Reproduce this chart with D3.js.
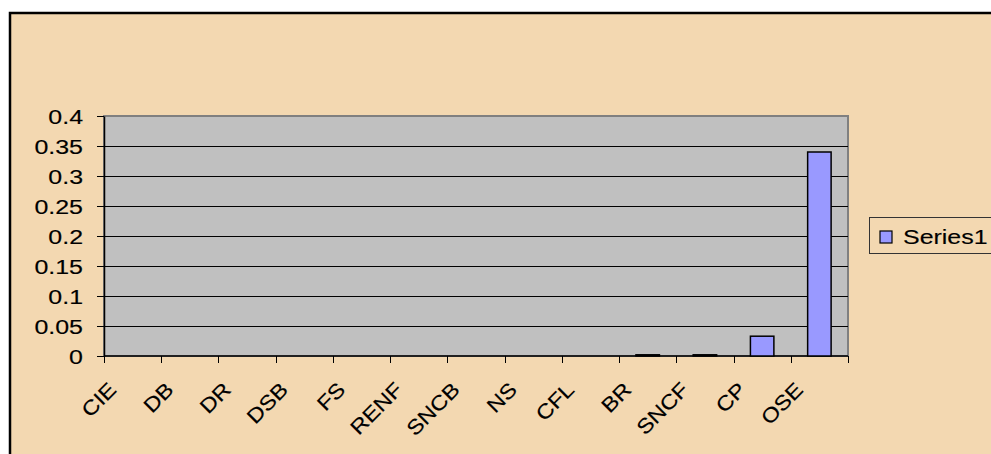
<!DOCTYPE html>
<html>
<head>
<meta charset="utf-8">
<script src="https://cdn.jsdelivr.net/npm/d3@7"></script>
<style>
  body { margin: 0; background: #fff; }
  text { font-family: "Liberation Sans", Arial, sans-serif; fill: #000; stroke: #000; stroke-width: 0.15px; }
</style>
</head>
<body>
<svg width="991" height="454"></svg>
<script>
// chart data
var categories = ["CIE", "DB", "DR", "DSB", "FS", "RENF", "SNCB", "NS", "CFL", "BR", "SNCF", "CP", "OSE"];
var series1 = [0, 0, 0, 0, 0, 0, 0, 0, 0, 0.002, 0.002, 0.033, 0.34];
var yTicks = [0, 0.05, 0.1, 0.15, 0.2, 0.25, 0.3, 0.35, 0.4];
var seriesName = "Series1";

var bgColor = "#f3d8b1",
    plotColor = "#c0c0c0",
    barColor = "#9999ff",
    fontSize = 19.5,
    stretch = 1.28; // the picture is stretched sideways

var svg = d3.select("svg"),
    plot = {left: 104, right: 848, top: 116, bottom: 356};

// outer frame
svg.append("rect")
    .attr("x", 10).attr("y", 13)
    .attr("width", 1000).attr("height", 460)
    .attr("fill", bgColor)
    .attr("stroke", "#000")
    .attr("stroke-width", 2.5);

var x = d3.scaleBand().domain(categories).range([plot.left, plot.right]).padding(0),
    y = d3.scaleLinear().domain([0, 0.4]).range([plot.bottom, plot.top]);

// plot area
svg.append("rect")
    .attr("x", plot.left).attr("y", plot.top)
    .attr("width", plot.right - plot.left).attr("height", plot.bottom - plot.top)
    .attr("fill", plotColor)
    .attr("stroke", "#808080")
    .attr("stroke-width", 2);

// gridlines
svg.selectAll(".grid")
    .data(yTicks.filter(function(d) { return d > 0 && d < 0.4; }))
    .enter().append("line")
      .attr("class", "grid")
      .attr("x1", plot.left).attr("x2", plot.right)
      .attr("y1", function(d) { return Math.round(y(d)) + 0.5; })
      .attr("y2", function(d) { return Math.round(y(d)) + 0.5; })
      .attr("stroke", "#000");

// y axis
var yAxis = svg.append("g")
    .attr("transform", "translate(" + plot.left + ",0)")
    .call(d3.axisLeft(y).tickValues(yTicks).tickSize(7).tickSizeOuter(0).tickFormat(function(d) { return String(d); }));
yAxis.select(".domain").attr("stroke", "#000").attr("stroke-width", 1.5);
yAxis.selectAll(".tick line").attr("stroke", "#000");
yAxis.selectAll(".tick text")
    .attr("x", null).attr("dy", null)
    .attr("transform", "translate(-21,0) scale(" + stretch + ",1)")
    .attr("dy", "0.36em")
    .style("font-size", fontSize + "px")
    .style("font-family", "'Liberation Sans', Arial, sans-serif");

// x axis, ticks at category boundaries
var xAxis = svg.append("g")
    .attr("transform", "translate(0," + plot.bottom + ")");
xAxis.append("line")
    .attr("x1", plot.left).attr("x2", plot.right)
    .attr("stroke", "#000").attr("stroke-width", 1.5);
var bounds = categories.map(function(c) { return x(c); }).concat([plot.right]);
xAxis.selectAll(".xtick")
    .data(bounds)
    .enter().append("line")
      .attr("class", "xtick")
      .attr("x1", function(d) { return Math.round(d) + 0.5; })
      .attr("x2", function(d) { return Math.round(d) + 0.5; })
      .attr("y1", 0).attr("y2", 7)
      .attr("stroke", "#000");
xAxis.selectAll(".xlabel")
    .data(categories)
    .enter().append("text")
      .attr("class", "xlabel")
      .attr("text-anchor", "end")
      .attr("transform", function(d) {
        return "translate(" + (x(d) + x.bandwidth() / 2 - 15) + ",35) rotate(-45) scale(1.14,1)";
      })
      .style("font-size", "20.5px")
      .text(function(d) { return d; });

// bars
var bw = x.bandwidth() * 0.41;
svg.selectAll(".bar")
    .data(categories.map(function(c, i) { return {cat: c, val: series1[i]}; }).filter(function(d) { return d.val > 0; }))
    .enter().append("rect")
      .attr("class", "bar")
      .attr("x", function(d) { return x(d.cat) + (x.bandwidth() - bw) / 2; })
      .attr("y", function(d) { return y(d.val); })
      .attr("width", bw)
      .attr("height", function(d) { return plot.bottom - y(d.val); })
      .attr("fill", barColor)
      .attr("stroke", "#000")
      .attr("stroke-width", 1.5);

// legend
var legend = svg.append("g").attr("transform", "translate(869,217)");
legend.append("rect")
    .attr("x", 0.5).attr("y", 0.5)
    .attr("width", 140).attr("height", 36)
    .attr("fill", bgColor)
    .attr("stroke", "#333");
legend.append("rect")
    .attr("x", 11).attr("y", 14)
    .attr("width", 12).attr("height", 12)
    .attr("fill", barColor)
    .attr("stroke", "#000")
    .attr("stroke-width", 1.2);
legend.append("text")
    .attr("transform", "translate(34,27) scale(" + stretch + ",1)")
    .style("font-size", fontSize + "px")
    .text(seriesName);
</script>
</body>
</html>
